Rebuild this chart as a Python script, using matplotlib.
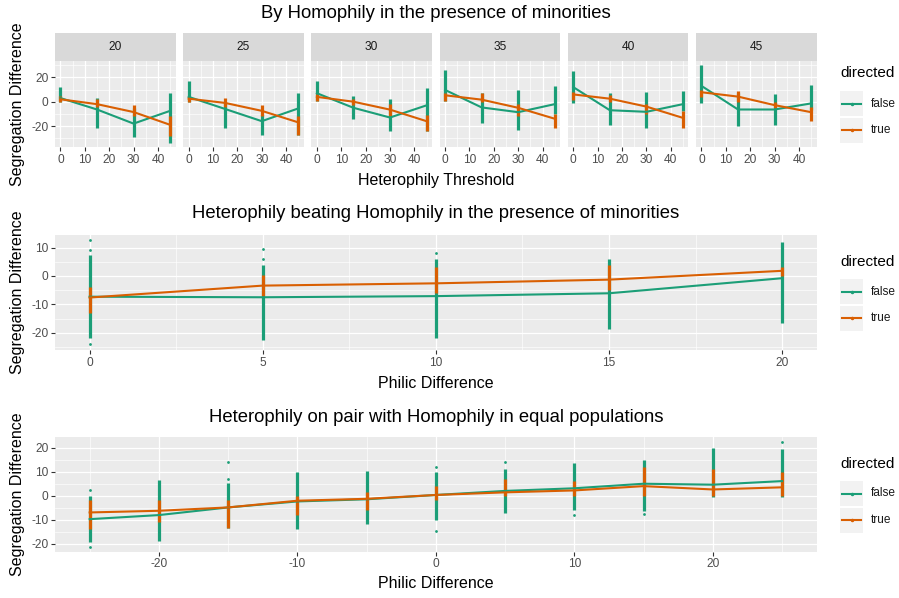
import numpy as np
import matplotlib.pyplot as plt
from matplotlib.patches import Rectangle
from matplotlib.lines import Line2D

plt.rcParams['font.family'] = ['Liberation Sans', 'DejaVu Sans']
plt.rcParams['axes.unicode_minus'] = False

GREEN = '#1b9e77'
ORANGE = '#d95f02'

# ---- top row: facets by homophily ----
facets = [20, 25, 30, 35, 40, 45]
thresholds = [0, 15, 30, 45]

top_false_mean = [[3, -6.4, -18, -7.5], [4, -6, -16, -5.5], [7, -5, -13, -3],
                  [9.7, -4.7, -8.6, -2], [12, -7, -8.3, -2], [13, -6.4, -6.4, -1.4]]
top_true_mean = [[2, -2, -8.5, -19], [2.5, -1, -7.5, -17], [4, 0, -6.5, -16],
                 [5.3, 1.7, -5, -14], [6, 2.5, -4, -13.3], [7.8, 4.2, -2.8, -8.6]]
top_false_hi = [[12.5, 3, -5, 7], [17, 0, -10, 7], [17, 5, 2, 11],
                [26, 7, 10, 13], [25, 7, 8, 9], [30, 7, 6.4, 13.6]]
top_false_lo = [[0, -22, -29, -34], [0, -22, -27, -27], [1, -14, -24, -24],
                [1, -17.5, -23, -10], [-1.4, -19.4, -21.7, -8], [-1, -20, -19.4, -7]]
top_true_hi = [[5, 2, -3, -12], [4, 3, -3, -12], [6, 2, -2, -11],
               [7, 7.5, -2, -10], [8, 5.5, -2, -8], [10, 9, 0, -4]]
top_true_lo = [[0, -4, -12, -28], [0, -4, -12, -27], [1, -3, -12, -24],
               [1, 0, -12, -22], [1.4, 0, -10, -22], [4, 0, -5.5, -16]]

# ---- middle row ----
mid_x = [0, 5, 10, 15, 20]
mid_false_mean = [-7.3, -7.5, -7.1, -6.1, -0.8]
mid_true_mean = [-7.6, -3.4, -2.6, -1.3, 1.8]
mid_false_hi = [7.5, 4, 6, 6, 12]
mid_false_lo = [-22, -22.5, -22, -18.8, -16.7]
mid_true_hi = [-4, 0.5, 3, 4, 3]
mid_true_lo = [-13, -7, -6, -5, 0]
mid_false_out_x = [0, 0, 0, 5, 5, 10]
mid_false_out_y = [12.6, 9, -24, 9.5, 6, 8]

# ---- bottom row ----
bot_x = [-25, -20, -15, -10, -5, 0, 5, 10, 15, 20, 25]
bot_false_mean = [-9.8, -8.1, -4.9, -2.4, -1.5, 0.3, 2, 3.1, 5, 4.6, 6.1]
bot_true_mean = [-7, -6.3, -4.9, -2.1, -1.3, 0.3, 1.4, 2.2, 4, 2.6, 3.5]
bot_false_hi = [0, 6.5, 5.5, 10, 10.5, 10, 11, 13.5, 15, 20, 19.5]
bot_false_lo = [-19.5, -19, -13.5, -14, -12, -10, -7.4, -6, -6.4, -0.4, -0.4]
bot_true_hi = [-2, -2, -2, 0, 1.5, 4, 7, 6, 12, 11, 10]
bot_true_lo = [-14, -11, -13.5, -8, -6, -2, 0, 0, 0, 0, 0]
bot_false_out_x = [-25, -25, -15, -15, 0, 0, 5, 10, 15, 25]
bot_false_out_y = [2.4, -21.3, 14, 7, 12, -14.8, 14, -8, -7.8, 22.6]

W, H = 899, 598
fig = plt.figure(figsize=(W / 100, H / 100), dpi=100)


def px_axes(left, top, right, bottom):
    return fig.add_axes([left / W, 1 - bottom / H, (right - left) / W, (bottom - top) / H])


def style(ax, xlim, ylim, xmaj, xmin, ymaj, ymin, show_y=True):
    ax.set_facecolor('#ebebeb')
    ax.set_xlim(xlim)
    ax.set_ylim(ylim)
    ax.set_xticks(xmaj)
    ax.set_xticks(xmin, minor=True)
    ax.set_yticks(ymaj)
    ax.set_yticks(ymin, minor=True)
    ax.grid(which='major', color='white', lw=0.9)
    ax.grid(which='minor', color='white', lw=0.45)
    ax.set_axisbelow(True)
    for s in ax.spines.values():
        s.set_visible(False)
    ax.tick_params(which='major', length=2.7, width=0.8, color='#333333',
                   labelsize=8.6, labelcolor='#4d4d4d', pad=2)
    ax.tick_params(which='minor', length=0)
    if not show_y:
        ax.tick_params(axis='y', which='major', length=0, labelleft=False)


def draw(ax, x, fm, flo, fhi, tm, tlo, thi, fout=None):
    ax.vlines(x, flo, fhi, color=GREEN, lw=2.3)
    if fout:
        ax.scatter(fout[0], fout[1], s=4, color=GREEN, lw=0)
    ax.vlines(x, tlo, thi, color=ORANGE, lw=2.3)
    ax.plot(x, fm, color=GREEN, lw=1.5)
    ax.plot(x, tm, color=ORANGE, lw=1.5)


def legend(title_y, key_top):
    fig.text(840 / W, 1 - title_y / H, 'directed', fontsize=11, va='center', ha='left')
    for i, (lab, c) in enumerate([('false', GREEN), ('true', ORANGE)]):
        top = key_top + i * 26.7
        fig.add_artist(Rectangle((840 / W, 1 - (top + 25) / H), 23 / W, 25 / H,
                                 transform=fig.transFigure, color='#f2f2f2', lw=0))
        cy = 1 - (top + 12.5) / H
        fig.add_artist(Line2D([842 / W, 861 / W], [cy, cy], transform=fig.transFigure,
                              color=c, lw=1.5))
        fig.add_artist(Line2D([851.5 / W], [cy], transform=fig.transFigure, color=c,
                              marker='o', markersize=1.5, lw=0))
        fig.text(871 / W, cy, lab, fontsize=8.6, va='center', ha='left', color='#1a1a1a')


# top row
pw, gap = 120.6, 7.6
for i, f in enumerate(facets):
    left = 55 + i * (pw + gap)
    ax = px_axes(left, 61, left + pw, 147.3)
    style(ax, (-2.25, 47.25), (-37.5, 33.5), [0, 10, 20, 30, 40], [5, 15, 25, 35, 45],
          [-20, 0, 20], [-30, -10, 10, 30], show_y=(i == 0))
    draw(ax, thresholds, top_false_mean[i], top_false_lo[i], top_false_hi[i],
         top_true_mean[i], top_true_lo[i], top_true_hi[i])
    fig.add_artist(Rectangle((left / W, 1 - 61 / H), pw / W, 28 / H,
                             transform=fig.transFigure, color='#d9d9d9', lw=0))
    fig.text((left + pw / 2) / W, 1 - 47 / H, str(f), fontsize=8.6, color='#1a1a1a',
             ha='center', va='center')

fig.text(436 / W, 1 - 14 / H, 'By Homophily in the presence of minorities', fontsize=13.3,
         ha='center', va='center')
fig.text(436 / W, 1 - 181 / H, 'Heterophily Threshold', fontsize=11.5, ha='center', va='center')
fig.text(17.5 / W, 1 - 104 / H, 'Segregation Difference', fontsize=11.5, rotation=90,
         ha='center', va='center')
legend(73, 91)

# middle row
ax = px_axes(55, 235, 816.7, 350)
style(ax, (-1, 21), (-26.05, 14.4), [0, 5, 10, 15, 20], [2.5, 7.5, 12.5, 17.5],
      [-20, -10, 0, 10], [-25, -15, -5, 5])
draw(ax, mid_x, mid_false_mean, mid_false_lo, mid_false_hi,
     mid_true_mean, mid_true_lo, mid_true_hi, (mid_false_out_x, mid_false_out_y))
fig.text(436 / W, 1 - 214 / H, 'Heterophily beating Homophily in the presence of minorities',
         fontsize=13.3, ha='center', va='center')
fig.text(436 / W, 1 - 383 / H, 'Philic Difference', fontsize=11.5, ha='center', va='center')
fig.text(17.5 / W, 1 - 292.5 / H, 'Segregation Difference', fontsize=11.5, rotation=90,
         ha='center', va='center')
legend(262, 279)

# bottom row
ax = px_axes(55, 437.3, 816.7, 551.7)
style(ax, (-27.5, 27.5), (-23.4, 24.4), [-20, -10, 0, 10, 20], [-25, -15, -5, 5, 15, 25],
      [-20, -10, 0, 10, 20], [-15, -5, 5, 15])
draw(ax, bot_x, bot_false_mean, bot_false_lo, bot_false_hi,
     bot_true_mean, bot_true_lo, bot_true_hi, (bot_false_out_x, bot_false_out_y))
fig.text(436 / W, 1 - 417 / H, 'Heterophily on pair with Homophily in equal populations',
         fontsize=13.3, ha='center', va='center')
fig.text(436 / W, 1 - 584 / H, 'Philic Difference', fontsize=11.5, ha='center', va='center')
fig.text(17.5 / W, 1 - 494.5 / H, 'Segregation Difference', fontsize=11.5, rotation=90,
         ha='center', va='center')
legend(464, 481)

fig.savefig('out.png', dpi=100)
